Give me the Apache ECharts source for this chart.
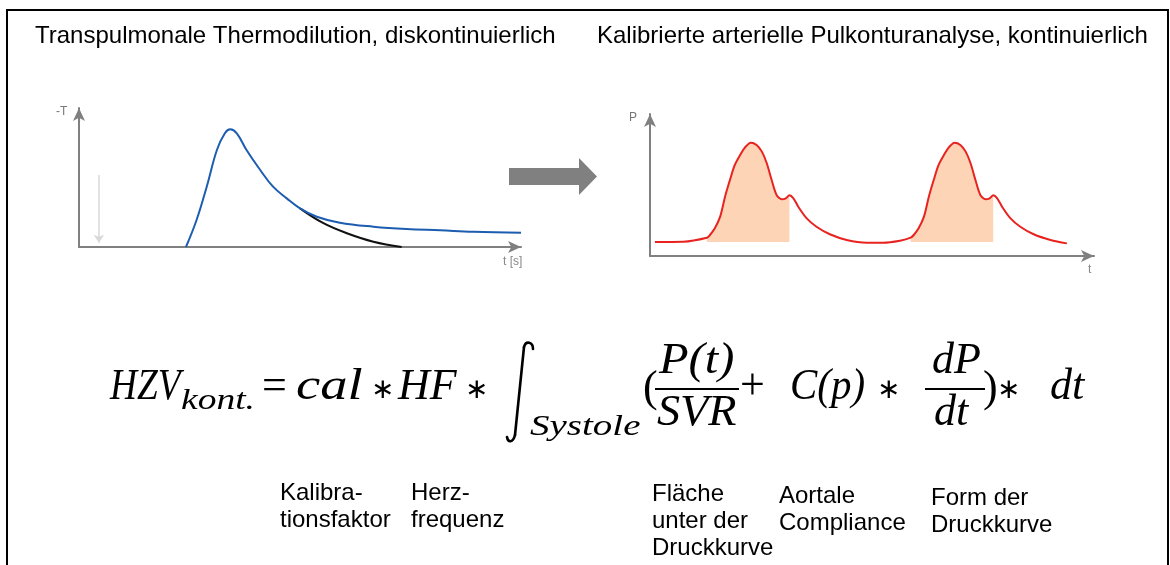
<!DOCTYPE html>
<html>
<head>
<meta charset="utf-8">
<script src="https://cdn.jsdelivr.net/npm/echarts@6/dist/echarts.min.js"></script>
<style>
  html, body { margin: 0; padding: 0; background: #fff; }
  #chart { width: 1170px; height: 565px; }
</style>
</head>
<body>
<div id="chart"></div>
<script>
  // Thermodilutionskurve (x: Zeit 0-100, y: -T 0-100)
  const thermoCurve = [
    [24.2, 0], [26.6, 19.4], [28.9, 43.4], [31.2, 69.8], [33.0, 81.8], [34.2, 84.7],
    [35.7, 81.8], [37.9, 69.8], [41.0, 55.4], [43.9, 43.4], [47.0, 35.0], [50.0, 27.8],
    [53.8, 21.8], [59.0, 17.5], [66.6, 14.6], [74.1, 12.9], [81.7, 12.0], [89.2, 11.0],
    [100, 10.3],
  ];
  // extrapolierter Abfall (schwarz)
  const thermoTail = [[50.0, 27.8], [55.3, 17.1], [60.6, 9.9], [66.6, 3.8], [73.0, 0]];
  // Injektionszeitpunkt
  const injection = { t: 4.5, from: 51.8, to: 3 };

  // arterielle Druckkurve (x: Zeit 0-100, y: P 0-100)
  const pulseCurve = [
    [1.1, 9.9], [7.5, 10.1],
    [12.8, 12.9], [13.5, 14.8], [14.6, 19.5], [15.8, 27.7], [16.9, 41.8], [18.0, 53.5],
    [19.1, 64.1], [20.3, 71.1], [21.4, 76.5], [22.7, 79.8], [24.0, 78.2], [25.2, 73.5],
    [26.3, 65.3], [27.4, 53.5], [28.5, 43.0], [29.7, 39.9], [30.6, 40.6], [31.4, 42.7],
    [32.3, 40.6], [33.4, 34.7], [35.3, 26.5], [37.5, 20.6], [40.5, 15.3], [44.3, 11.3],
    [48.8, 9.4], [52.5, 9.4], [56.3, 10.8],
    [58.7, 12.9], [59.4, 14.8], [60.5, 19.5], [61.7, 27.7], [62.8, 41.8], [63.9, 53.5],
    [65.0, 64.1], [66.2, 71.1], [67.3, 76.5], [68.6, 79.8], [69.9, 78.2], [71.1, 73.5],
    [72.2, 65.3], [73.3, 53.5], [74.4, 43.0], [75.6, 39.9], [76.5, 40.6], [77.3, 42.7],
    [78.2, 40.6], [79.3, 34.7], [81.2, 26.5], [83.4, 20.6], [86.4, 15.3], [90.2, 11.3],
    [93.9, 8.9],
  ];
  const systole1 = pulseCurve.slice(2, 20);
  const systole2 = pulseCurve.slice(29, 47);
  const diastolicBase = 9.9;

  const titles = [
    'Transpulmonale Thermodilution, diskontinuierlich',
    'Kalibrierte arterielle Pulkonturanalyse, kontinuierlich',
  ];
  const termLabels = [
    'Kalibra-\ntionsfaktor',
    'Herz-\nfrequenz',
    'Fläche\nunter der\nDruckkurve',
    'Aortale\nCompliance',
    'Form der\nDruckkurve',
  ];

  const chart = echarts.init(document.getElementById('chart'));

  const axisGray = '#808080';
  const arrowAxis = (gridIndex) => ({
    gridIndex,
    type: 'value',
    min: 0,
    max: 100,
    axisLine: {
      show: true,
      onZero: false,
      symbol: ['none', 'arrow'],
      symbolSize: [9, 13],
      lineStyle: { color: axisGray, width: 2 },
    },
    axisTick: { show: false },
    axisLabel: { show: false },
    splitLine: { show: false },
  });

  const SERIF = '"Liberation Serif", "DejaVu Serif", serif';
  const SANS = '"Liberation Sans", Arial, sans-serif';

  // Text mit Grundlinie base, sx = horizontale Streckung
  const tok = (text, x, base, size, italic, sx) => ({
    type: 'text',
    x,
    y: base - 0.34 * size,
    scaleX: sx || 1,
    style: {
      text,
      font: (italic ? 'italic ' : '') + size + 'px ' + SERIF,
      fill: '#000',
      align: 'left',
      verticalAlign: 'middle',
    },
  });
  const star = (x) => ({
    type: 'text',
    x,
    y: 391,
    style: { text: '∗', font: '28px "DejaVu Sans"', fill: '#000', align: 'left', verticalAlign: 'middle' },
  });
  const bar = (x1, x2) => ({
    type: 'line',
    shape: { x1, y1: 389, x2, y2: 389 },
    style: { stroke: '#000', lineWidth: 2 },
  });
  const integralStyle = { fill: 'none', stroke: '#000', lineWidth: 2.6, lineCap: 'round' };

  const labelPos = [[280, 493], [411, 493], [652, 494], [779, 496], [931, 498]];

  const graphic = [
    {
      type: 'rect',
      shape: { x: 7, y: 10, width: 1161, height: 620 },
      style: { fill: 'none', stroke: '#000', lineWidth: 2 },
    },
    {
      type: 'text', x: 35, y: 36,
      style: { text: titles[0], font: '24px ' + SANS, fill: '#000', verticalAlign: 'middle' },
    },
    {
      type: 'text', x: 597, y: 36,
      style: { text: titles[1], font: '24px ' + SANS, fill: '#000', verticalAlign: 'middle' },
    },
    // großer Pfeil
    {
      type: 'polygon',
      shape: { points: [[509, 168], [579, 168], [579, 158], [597, 176.5], [579, 195], [579, 185], [509, 185]] },
      style: { fill: '#808080' },
    },
    // Achsenbeschriftungen
    { type: 'text', x: 56, y: 112, style: { text: '-T', font: '12px ' + SANS, fill: '#777', verticalAlign: 'middle' } },
    { type: 'text', x: 503, y: 262, style: { text: 't [s]', font: '12px ' + SANS, fill: '#888', verticalAlign: 'middle' } },
    { type: 'text', x: 629, y: 118, style: { text: 'P', font: '12px ' + SANS, fill: '#777', verticalAlign: 'middle' } },
    { type: 'text', x: 1088, y: 270, style: { text: 't', font: '12px ' + SANS, fill: '#888', verticalAlign: 'middle' } },
    // Formel
    tok('HZV', 110, 402, 44, true, 0.85),
    tok('kont.', 181, 411, 30, true, 1.25),
    tok('=', 262, 402, 44, false),
    tok('cal', 296, 402, 44, true, 1.24),
    star(371),
    tok('HF', 398, 402, 44, true),
    star(465),
    // Integralzeichen
    {
      type: 'bezierCurve',
      shape: { x1: 533, y1: 349, cpx1: 533, cpy1: 342, cpx2: 526, cpy2: 340, x2: 524, y2: 347 },
      style: integralStyle,
    },
    { type: 'line', shape: { x1: 524, y1: 347, x2: 515, y2: 435 }, style: integralStyle },
    {
      type: 'bezierCurve',
      shape: { x1: 515, y1: 435, cpx1: 513, cpy1: 443, cpx2: 508, cpy2: 443, x2: 507, y2: 437 },
      style: integralStyle,
    },
    tok('Systole', 530, 437, 30, true, 1.3),
    tok('(', 643, 404, 44, false),
    tok('P(t)', 659, 376, 44, true, 1.1),
    bar(655, 739),
    tok('SVR', 657, 428, 44, true, 1.05),
    tok('+', 740, 402, 44, false),
    tok('C(p)', 790, 402, 44, true, 0.93),
    star(877),
    tok('dP', 932, 376, 44, true),
    bar(925, 985),
    tok('dt', 934, 428, 44, true),
    tok(')', 983, 404, 44, false),
    star(997),
    tok('dt', 1050, 402, 44, true),
  ];
  termLabels.forEach((t, i) => {
    graphic.push({
      type: 'text',
      x: labelPos[i][0],
      y: labelPos[i][1] - 13.5,
      style: { text: t, font: '24px ' + SANS, fill: '#000', lineHeight: 27, verticalAlign: 'top' },
    });
  });

  const option = {
    animation: false,
    grid: [
      { left: 79, top: 108, width: 442, height: 139 },
      { left: 650, top: 114, width: 444, height: 142 },
    ],
    xAxis: [arrowAxis(0), arrowAxis(1)],
    yAxis: [arrowAxis(0), arrowAxis(1)],
    series: [
      {
        type: 'line',
        xAxisIndex: 0,
        yAxisIndex: 0,
        data: thermoTail,
        smooth: 0.4,
        showSymbol: false,
        lineStyle: { color: '#111', width: 2 },
        z: 2,
      },
      {
        type: 'line',
        xAxisIndex: 0,
        yAxisIndex: 0,
        data: thermoCurve,
        smooth: 0.4,
        showSymbol: false,
        clip: false,
        lineStyle: { color: '#1c5db0', width: 2 },
        z: 3,
        markLine: {
          silent: true,
          symbol: ['none', 'arrow'],
          symbolSize: 8,
          label: { show: false },
          lineStyle: { color: '#d9d9d9', width: 1.5, type: 'solid' },
          data: [[{ coord: [injection.t, injection.from] }, { coord: [injection.t, injection.to] }]],
        },
      },
      {
        type: 'line',
        xAxisIndex: 1,
        yAxisIndex: 1,
        data: systole1,
        smooth: 0.3,
        showSymbol: false,
        lineStyle: { width: 0, opacity: 0 },
        areaStyle: { color: '#fdd4b6', opacity: 1, origin: diastolicBase },
        z: 1,
      },
      {
        type: 'line',
        xAxisIndex: 1,
        yAxisIndex: 1,
        data: systole2,
        smooth: 0.3,
        showSymbol: false,
        lineStyle: { width: 0, opacity: 0 },
        areaStyle: { color: '#fdd4b6', opacity: 1, origin: diastolicBase },
        z: 1,
      },
      {
        type: 'line',
        xAxisIndex: 1,
        yAxisIndex: 1,
        data: pulseCurve,
        smooth: 0.3,
        showSymbol: false,
        lineStyle: { color: '#e8231f', width: 2 },
        z: 3,
      },
    ],
    graphic,
  };

  chart.setOption(option);
  window.addEventListener('resize', () => chart.resize());
</script>
</body>
</html>
